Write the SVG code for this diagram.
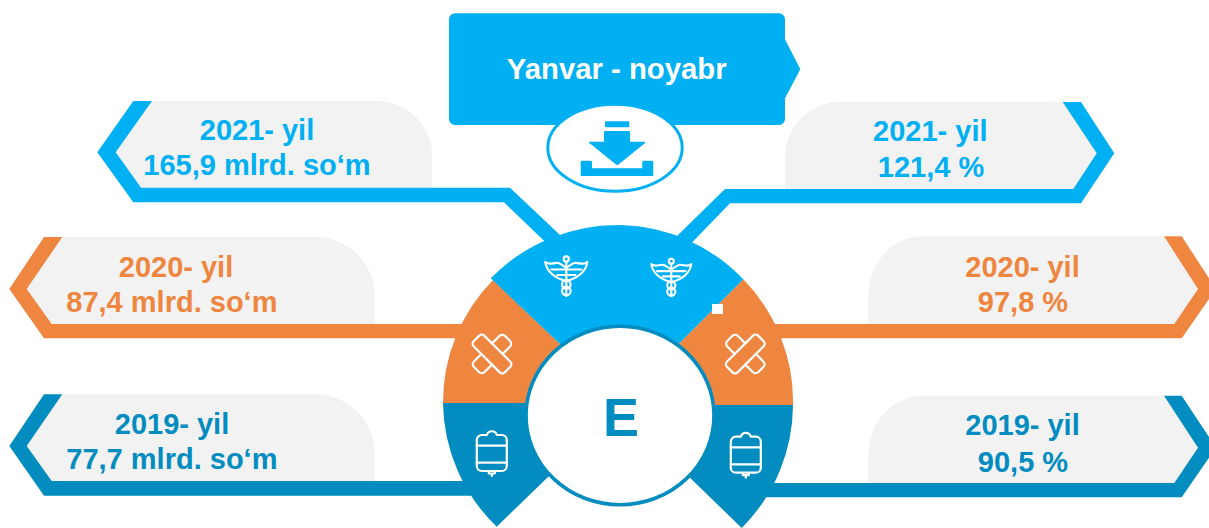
<svg xmlns="http://www.w3.org/2000/svg" width="1209" height="528" viewBox="0 0 1209 528">
<style>
text{font-family:"Liberation Sans",Arial,sans-serif;font-weight:700;font-size:29px}
.grey{fill:#f2f2f2}
.c1{fill:#00b0f2}.c2{fill:#ef8640}.c3{fill:#028cbf}
.mid{text-anchor:middle}
.ico{fill:none;stroke:#fff;stroke-width:2.2;stroke-linejoin:round;stroke-linecap:round}
</style>
<defs>
<g id="caduceus" class="ico">
<circle cx="0" cy="-17" r="2.6"/>
<path d="M0,-14V20"/>
<path d="M-21,-14C-17,-10 -12,-14 -8,-13C-5,-12 -3,-10 0,-8C3,-10 5,-12 8,-13C12,-14 17,-10 21,-14C20,-5 12,2 0,5C-12,2 -20,-5 -21,-14Z"/>
<path d="M-15,-6.5H-1M-9,-1H-1M15,-6.5H1M9,-1H1"/>
<circle cx="0" cy="8.5" r="4.3"/>
<circle cx="0" cy="15" r="4.3"/>
</g>
<g id="plaster" class="ico">
<rect x="-22" y="-7.5" width="44" height="15" rx="3.5"/>
<path d="M-7.5,-7.5V-18A4,4 0 0 1 -3.5,-22H3.5A4,4 0 0 1 7.5,-18V-7.5M-7.5,7.5V18A4,4 0 0 0 -3.5,22H3.5A4,4 0 0 0 7.5,18V7.5"/>
</g>
<g id="bag" class="ico">
<path d="M-5,0A5.2,5.2 0 0 1 5,0H10A5,5 0 0 1 15,5V31A5,5 0 0 1 10,36H-10A5,5 0 0 1 -15,31V5A5,5 0 0 1 -10,0Z"/>
<path d="M-15,10.7H15M-15,27.7H15"/>
<path d="M-3,36.5V38.5H3V36.5M0,38.5V41"/>
</g>
</defs>

<g id="node-top">
<path class="c1" d="M455,13.3H779A6,6 0 0 1 785,19.3V39.3L800.3,69.3L785,98.3V119A6,6 0 0 1 779,125H455A6,6 0 0 1 449,119V19.3A6,6 0 0 1 455,13.3Z"/>
<text class="mid" x="616.7" y="79.3" fill="#fff" style="font-size:29.3px">Yanvar - noyabr</text>
</g>
<g id="node-download">
<ellipse cx="615" cy="147.7" rx="67.2" ry="43.5" fill="#fff" stroke="#00b0f2" stroke-width="3"/>
<rect class="c1" x="605" y="121.3" width="24.3" height="6" rx="1"/>
<path class="c1" d="M605,131H629Q630,131 630,132V141.7H644Q646,142 644.5,143.5L618.5,164.5Q617.3,165.3 616,164.5L590,143.5Q588,142 590,141.7H604V132Q604,131 605,131Z"/>
<path class="c1" d="M582,160.7H590.5Q592,160.7 592,162V168.3H642.3V162Q642.3,160.7 644,160.7H652Q653.3,160.7 653.3,162V175Q653.3,176 652,176H582Q580.7,176 580.7,175V162Q580.7,160.7 582,160.7Z"/>
</g>

<g id="node-left-2021">
<path class="grey" d="M115.7,152.3L152,101H376.7A55.6,56 0 0 1 432.3,157V190H141Z"/>
<text class="c1 mid" x="257" y="140">2021- yil</text>
<text class="c1" x="143.3" y="175.3">165,9 mlrd. so‘m</text>
</g>
<g id="node-left-2020">
<path class="grey" d="M26.7,289L62.3,237H315A59.7,59 0 0 1 374.7,296V326H51.7Z"/>
<text class="c2 mid" x="176" y="276.7">2020- yil</text>
<text class="c2" x="66.3" y="312.3">87,4 mlrd. so‘m</text>
</g>
<g id="node-left-2019">
<path class="grey" d="M26.7,446L62.3,394.3H315A59.7,59 0 0 1 374.7,453V483H51.7Z"/>
<text class="c3 mid" x="172" y="434.3">2019- yil</text>
<text class="c3" x="66.3" y="469">77,7 mlrd. so‘m</text>
</g>
<g id="node-right-2021">
<path class="grey" d="M1096.7,153.3L1062.7,101.7H840A55,56 0 0 0 785,158V191H1073.3Z"/>
<text class="c1 mid" x="930.3" y="141">2021- yil</text>
<text class="c1 mid" x="931" y="176.7">121,4 %</text>
</g>
<g id="node-right-2020">
<path class="grey" d="M1198,289L1164,236.3H923.3A55,59 0 0 0 868.3,295V326H1174.3Z"/>
<text class="c2 mid" x="1022.5" y="276.7">2020- yil</text>
<text class="c2 mid" x="1023" y="311.7">97,8 %</text>
</g>
<g id="node-right-2019">
<path class="grey" d="M1198,447.7L1164,395.7H923.3A55,59 0 0 0 868.3,454V485H1174.3Z"/>
<text class="c3 mid" x="1022.5" y="435">2019- yil</text>
<text class="c3 mid" x="1023" y="471.7">90,5 %</text>
</g>

<g id="connectors">
<polygon class="c1" points="133.3,101 152,101 115.7,152.3 141,187.7 510,187.7 560,235 575,250 560,257 544.3,241 504,202.3 133.3,202.3 97.3,152.3"/>
<polygon class="c1" points="1081,102 1114.3,153.3 1081,203.3 730,203.3 692.3,242.3 680,255 665,250 677.3,235.7 725,189 1073.3,189 1096.7,153.3 1062.7,102"/>
<polygon class="c2" points="44,237 62.3,237 26.7,289 51.7,324 480,324 480,338.3 44,338.3 9.3,289"/>
<polygon class="c2" points="1181.7,236.3 1164,236.3 1198,289 1174.3,324 760,324 760,338.3 1181.7,338.3 1216,289"/>
<polygon class="c3" points="44,394.3 62.3,394.3 26.7,446 51.7,481 480,481 480,495.7 44,495.7 9.3,446"/>
<polygon class="c3" points="1181.7,395.7 1164,395.7 1198,447.7 1174.3,483 760,483 760,497.3 1181.7,497.3 1216,447.7"/>
</g>

<g id="hub">
<path class="c2" d="M493,280A175,175 0 0 0 443,403H600V380L560,344Z"/>
<path class="c2" d="M743.3,279.3A175,175 0 0 1 793,405H640V380L679.3,343.3Z"/>
<path class="c3" d="M443,403A175,175 0 0 0 496.7,526.7L548.3,476.7L600,440V403Z"/>
<path class="c3" d="M793,405A175,175 0 0 1 741.7,528L690,477.7L640,440V405Z"/>
<path class="c1" d="M490.7,278.3A178,178 0 0 1 621,225A175,175 0 0 1 743.3,279.3L679.3,343.3L620,400L560,344Z"/>
<ellipse cx="620" cy="415.5" rx="94" ry="89.3" fill="#fff" stroke="#028cbf" stroke-width="3.6"/>
<text id="hub-label" class="c3" x="603" y="435.7" style="font-size:54px">E</text>
<rect x="712" y="304" width="11" height="10" fill="#fff"/>
</g>

<g id="icon-caduceus-left"><use href="#caduceus" transform="translate(566.3,276)"/></g>
<g id="icon-caduceus-right"><use href="#caduceus" transform="translate(671.3,277.3) scale(.95)"/></g>
<g id="icon-plaster-left"><use href="#plaster" transform="translate(492,354) rotate(45)"/></g>
<g id="icon-plaster-right"><use href="#plaster" transform="translate(745.3,354) rotate(-45)"/></g>
<g id="icon-bag-left"><use href="#bag" transform="translate(491.8,435)"/></g>
<g id="icon-bag-right"><use href="#bag" transform="translate(745.8,436.7)"/></g>
</svg>
